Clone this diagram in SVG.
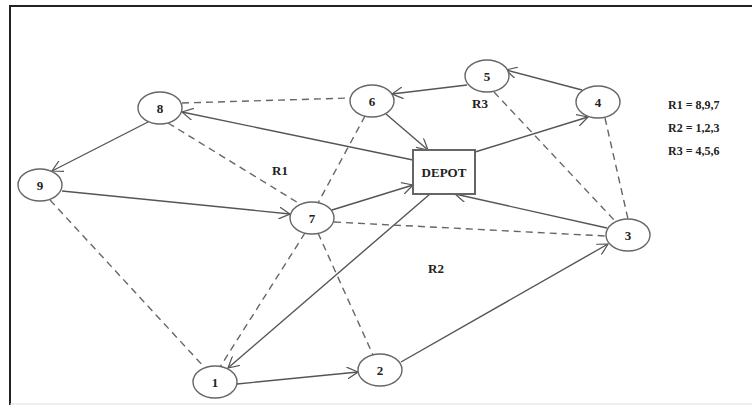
<svg xmlns="http://www.w3.org/2000/svg" width="754" height="411" viewBox="0 0 754 411">
<style>
.n ellipse{fill:#fff;stroke:#666;stroke-width:1.4}
.n text,.lbl{font-family:"Liberation Serif",serif;font-weight:bold;font-size:13px;fill:#222;text-anchor:middle}
.leg{font-family:"Liberation Serif",serif;font-weight:bold;font-size:12px;fill:#222}
.s{stroke:#555;stroke-width:1.4;fill:none;marker-end:url(#a)}
.d{stroke:#666;stroke-width:1.4;fill:none;stroke-dasharray:7,5}
</style>
<defs>
<marker id="a" viewBox="0 0 12 12" refX="11" refY="6" markerWidth="12" markerHeight="12" markerUnits="userSpaceOnUse" orient="auto">
<path d="M0,0 L11,6 L0,12" fill="none" stroke="#555" stroke-width="1.2"/>
</marker>
</defs>
<rect width="754" height="411" fill="#fff"/>
<g id="frame">
<line x1="10" y1="6" x2="752" y2="6" stroke="#222" stroke-width="2"/>
<line x1="10" y1="5" x2="10" y2="405" stroke="#222" stroke-width="2"/>
<line x1="10" y1="404" x2="752" y2="404" stroke="#ddd" stroke-width="1"/>
</g>
<g id="connectors">
<line class="d" x1="182" y1="103" x2="350" y2="98"/>
<line class="d" x1="168" y1="123" x2="300" y2="204"/>
<line class="d" x1="365" y1="116" x2="318" y2="203"/>
<line class="d" x1="50" y1="200" x2="205" y2="368"/>
<line class="d" x1="305" y1="233" x2="220" y2="367"/>
<line class="d" x1="318" y1="233" x2="373" y2="355"/>
<line class="d" x1="334" y1="222" x2="606" y2="236"/>
<line class="d" x1="494" y1="92" x2="615" y2="221"/>
<line class="d" x1="605" y1="118" x2="628" y2="219"/>
<line class="s" x1="148" y1="122" x2="52" y2="171"/>
<line class="s" x1="62" y1="191" x2="290" y2="214"/>
<line class="s" x1="332" y1="210" x2="413" y2="185"/>
<line class="s" x1="413" y1="160" x2="182" y2="112"/>
<line class="s" x1="386" y1="114" x2="428" y2="150"/>
<line class="s" x1="467" y1="85" x2="392" y2="94"/>
<line class="s" x1="582" y1="90" x2="506" y2="70"/>
<line class="s" x1="475" y1="152" x2="588" y2="117"/>
<line class="s" x1="607" y1="228" x2="455" y2="194"/>
<line class="s" x1="430" y1="194" x2="228" y2="368"/>
<line class="s" x1="237" y1="384" x2="358" y2="372"/>
<line class="s" x1="401" y1="362" x2="608" y2="244"/>
</g>
<g id="n8" class="n"><ellipse cx="160" cy="108" rx="22" ry="16"/><text x="160" y="113">8</text></g>
<g id="n6" class="n"><ellipse cx="372" cy="101" rx="22" ry="16"/><text x="372" y="106">6</text></g>
<g id="n5" class="n"><ellipse cx="487" cy="76" rx="22" ry="16"/><text x="487" y="81">5</text></g>
<g id="n4" class="n"><ellipse cx="598" cy="102" rx="22" ry="16"/><text x="598" y="107">4</text></g>
<g id="n9" class="n"><ellipse cx="40" cy="185" rx="22" ry="16"/><text x="40" y="190">9</text></g>
<g id="n7" class="n"><ellipse cx="312" cy="218" rx="22" ry="16"/><text x="312" y="223">7</text></g>
<g id="n3" class="n"><ellipse cx="628" cy="235" rx="22" ry="16"/><text x="628" y="240">3</text></g>
<g id="n1" class="n"><ellipse cx="215" cy="382" rx="22" ry="16"/><text x="215" y="387">1</text></g>
<g id="n2" class="n"><ellipse cx="380" cy="370" rx="22" ry="16"/><text x="380" y="375">2</text></g>
<g id="depot" class="n"><rect x="413" y="150" width="62" height="44" fill="#fff" stroke="#666" stroke-width="2"/><text x="444" y="177">DEPOT</text></g>
<g id="labels">
<text class="lbl" x="480" y="108">R3</text>
<text class="lbl" x="280" y="175">R1</text>
<text class="lbl" x="436" y="273">R2</text>
<text class="leg" x="668" y="109">R1 = 8,9,7</text>
<text class="leg" x="668" y="132">R2 = 1,2,3</text>
<text class="leg" x="668" y="155">R3 = 4,5,6</text>
</g>
</svg>
